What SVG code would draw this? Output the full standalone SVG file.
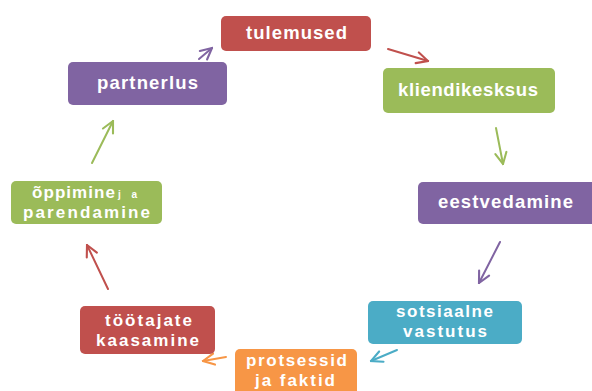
<svg xmlns="http://www.w3.org/2000/svg" width="592" height="391" viewBox="0 0 592 391">
<style>
.t{font-family:"Liberation Sans",Arial,sans-serif;font-size:17px;font-weight:bold;fill:#fff;text-anchor:middle}
.s{font-size:18.5px}
.c{fill:none;stroke-width:2;stroke-linecap:round}
</style>
<defs>
<marker id="mr" viewBox="0 0 10 10" refX="9" refY="5" markerWidth="14" markerHeight="14" markerUnits="userSpaceOnUse" orient="auto"><path d="M1,1 L9,5 L1,9" fill="none" stroke="#C0504D" stroke-width="1.5" stroke-linecap="round"/></marker>
<marker id="mg" viewBox="0 0 10 10" refX="9" refY="5" markerWidth="14" markerHeight="14" markerUnits="userSpaceOnUse" orient="auto"><path d="M1,1 L9,5 L1,9" fill="none" stroke="#9BBB59" stroke-width="1.5" stroke-linecap="round"/></marker>
<marker id="mp" viewBox="0 0 10 10" refX="9" refY="5" markerWidth="14" markerHeight="14" markerUnits="userSpaceOnUse" orient="auto"><path d="M1,1 L9,5 L1,9" fill="none" stroke="#8064A2" stroke-width="1.5" stroke-linecap="round"/></marker>
<marker id="mt" viewBox="0 0 10 10" refX="9" refY="5" markerWidth="14" markerHeight="14" markerUnits="userSpaceOnUse" orient="auto"><path d="M1,1 L9,5 L1,9" fill="none" stroke="#4BACC6" stroke-width="1.5" stroke-linecap="round"/></marker>
<marker id="mo" viewBox="0 0 10 10" refX="9" refY="5" markerWidth="14" markerHeight="14" markerUnits="userSpaceOnUse" orient="auto"><path d="M1,1 L9,5 L1,9" fill="none" stroke="#F79646" stroke-width="1.5" stroke-linecap="round"/></marker>
</defs>
<rect width="592" height="391" fill="#fff"/>
<g id="connectors">
<line class="c" x1="388" y1="49" x2="428" y2="61" stroke="#C0504D" marker-end="url(#mr)"/>
<line class="c" x1="496" y1="128" x2="503" y2="164" stroke="#9BBB59" marker-end="url(#mg)"/>
<line class="c" x1="500" y1="242" x2="479" y2="283" stroke="#8064A2" marker-end="url(#mp)"/>
<line class="c" x1="397" y1="350" x2="371" y2="361" stroke="#4BACC6" marker-end="url(#mt)"/>
<line class="c" x1="226" y1="357" x2="203" y2="361" stroke="#F79646" marker-end="url(#mo)"/>
<line class="c" x1="108" y1="289" x2="87" y2="245" stroke="#C0504D" marker-end="url(#mr)"/>
<line class="c" x1="92" y1="163" x2="113" y2="121" stroke="#9BBB59" marker-end="url(#mg)"/>
<line class="c" x1="199" y1="59" x2="212" y2="48" stroke="#8064A2" marker-end="url(#mp)"/>
</g>
<g id="tulemused">
<rect x="221" y="16" width="150" height="35" rx="5" fill="#C0504D"/>
<text class="t s" x="296.5" y="39" textLength="101">tulemused</text>
</g>
<g id="kliendikesksus">
<rect x="383" y="68" width="172" height="45" rx="5" fill="#9BBB59"/>
<text class="t s" x="468" y="96" textLength="140">kliendikesksus</text>
</g>
<g id="eestvedamine">
<rect x="418" y="182" width="180" height="42" rx="5" fill="#8064A2"/>
<text class="t s" x="505.5" y="208" textLength="135">eestvedamine</text>
</g>
<g id="sotsiaalne">
<rect x="368" y="301" width="154" height="43" rx="5" fill="#4BACC6"/>
<text class="t"><tspan x="444.5" y="317" textLength="97">sotsiaalne</tspan><tspan x="445" y="337" textLength="84">vastutus</tspan></text>
</g>
<g id="protsessid">
<rect x="235" y="349" width="122" height="50" rx="5" fill="#F79646"/>
<text class="t"><tspan x="296.5" y="366" textLength="101">protsessid</tspan><tspan x="295" y="386" textLength="80">ja faktid</tspan></text>
</g>
<g id="tootajate">
<rect x="80" y="306" width="135" height="48" rx="5" fill="#C0504D"/>
<text class="t"><tspan x="148.5" y="326" textLength="87">töötajate</tspan><tspan x="147.5" y="346" textLength="103">kaasamine</tspan></text>
</g>
<g id="oppimine">
<rect x="11" y="181" width="151" height="43" rx="5" fill="#9BBB59"/>
<text class="t"><tspan x="73.5" y="198" textLength="83">õppimine</tspan><tspan x="127.5" y="198" style="font-size:10px" textLength="19">ja</tspan><tspan x="86.5" y="218" textLength="127">parendamine</tspan></text>
</g>
<g id="partnerlus">
<rect x="68" y="62" width="159" height="43" rx="5" fill="#8064A2"/>
<text class="t s" x="147.5" y="89" textLength="101">partnerlus</text>
</g>
</svg>
